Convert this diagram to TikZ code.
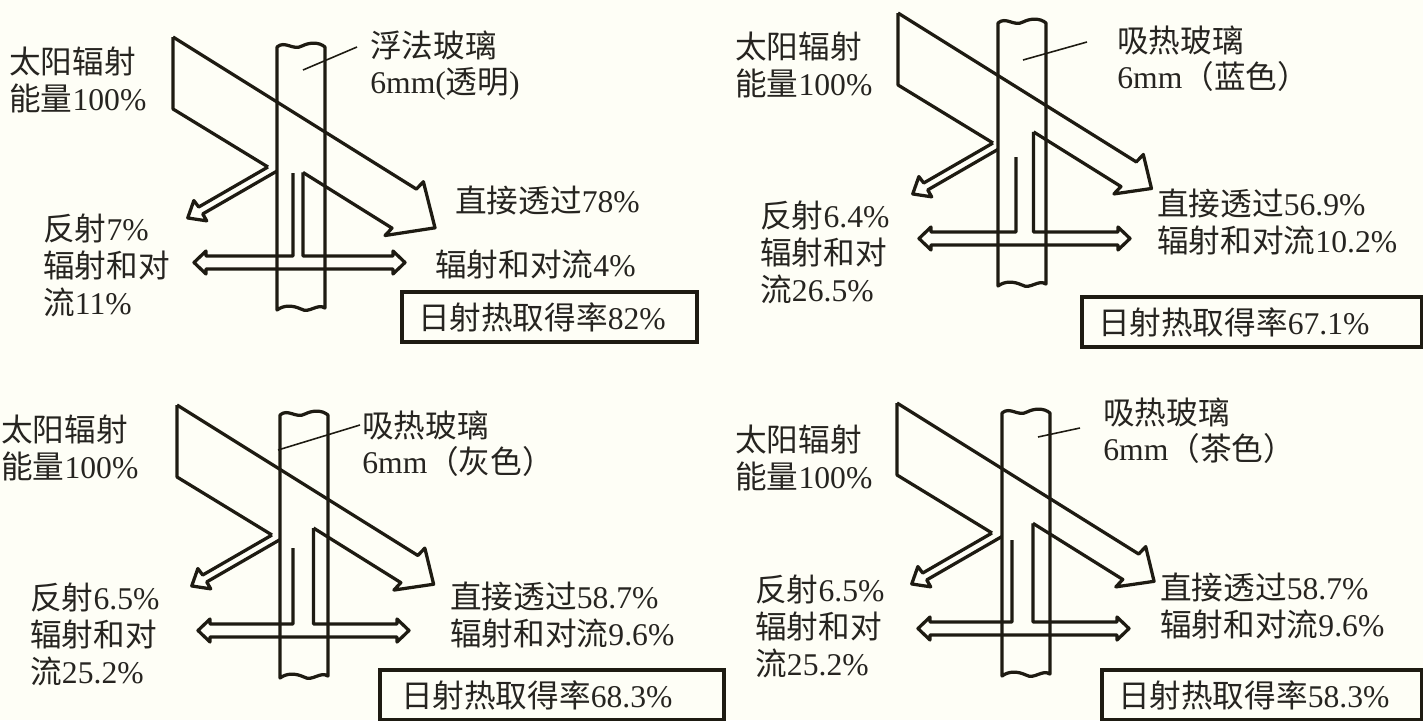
\documentclass[tikz,border=0pt]{standalone}
\usepackage{fontspec}
\setmainfont{Liberation Serif}
\newfontfamily\cjk{Noto Sans CJK SC}
\newcommand{\zh}[1]{{\cjk #1}}
\usetikzlibrary{calc}
\definecolor{ink}{HTML}{1E1B12}
\definecolor{paper}{HTML}{FEFEF6}
\definecolor{txt}{HTML}{262420}

\begin{document}
\begin{tikzpicture}[x=0.02cm, y=0.02cm,
    ray/.style={draw=ink, line width=1.85pt, line join=round},
    leader/.style={draw=ink, line width=0.9pt},
    lbl/.style={font=\fontsize{18}{21}\selectfont, text=txt, anchor=north west,
                align=left, inner sep=0pt},
    ratebox/.style={draw=ink, line width=2.3pt, font=\fontsize{18}{21}\selectfont,
                    text=txt, anchor=north west, inner xsep=0.32cm,
                    minimum height=1cm, align=left}
  ]
  \fill[paper] (0,0) rectangle (1423,-720);
  \useasboundingbox (0,0) rectangle (1423,-720);

  % --- four panes: origin, glass edge, left stem, transmitted beam ---
  \foreach \ox/\oy/\gl/\lx/\lt/\w/\xr/\len in {173/37/104/120/136/46/182/287,
      898/13/100/118/144/29/178/281, 177/405/103/116/143/32/181/284,
      897/403/105/115/137/30/179/285}{
    \begin{scope}[shift={(\ox,-\oy)}]
      \pgfmathsetmacro{\hd}{0.55*\w+11}
      \pgfmathsetmacro{\xo}{(99-\gl)/0.866}
      % glass, broken at both ends
      \draw[ray] (\gl,-10) .. controls ({\gl+8},-3) and ({\gl+16},-14) .. ({\gl+25},-9)
                 .. controls ({\gl+33},-5) and ({\gl+42},-5) .. ({\gl+48},-10)
                 -- ({\gl+48},-271) .. controls ({\gl+40},-266) and ({\gl+32},-277) .. ({\gl+24},-272)
                 .. controls ({\gl+15},-268) and ({\gl+7},-268) .. (\gl,-273) -- cycle;
      % incoming beam
      \draw[ray] (0,0) -- (0,-72) -- (95,-130);
      % transmitted beam
      \begin{scope}[rotate=-32]
        \draw[ray] (0,0) -- (\len,0) -- ({\len+2},10) -- ({\len+\hd},{-\w/2})
                   -- ({\len-2},{-\w-10}) -- (\len,-\w) -- (\xr,-\w) coordinate (rs);
      \end{scope}
      % reflected beam
      \begin{scope}[shift={(95,-130)}, rotate=210]
        \draw[ray] (\xo,8) -- (80,8) -- (80,16) -- (95,4) -- (81,-8) -- (80,0) -- (0,0);
      \end{scope}
      % radiation and convection, both sides
      \coordinate (yt) at (0,-219);
      \draw[ray] (\lx,-\lt) -- (\lx,-219) -- (33,-219) -- (33,-214) -- (21,-225.5)
                 -- (33,-237) -- (33,-232) -- (220,-232) -- (220,-237) -- (232,-225.5)
                 -- (220,-214) -- (220,-219) -- (rs |- yt) -- (rs);
    \end{scope}
  }

  % --- top left: float glass ---
  \node[lbl] (sun1) at (9,-47) {\zh{太阳辐射}\\\zh{能量}100\%};
  \node[lbl] (gls1) at (370,-30) {\zh{浮法玻璃}\\6mm(\zh{透明})};
  \node[lbl] (dir1) at (455,-186) {\zh{直接透过}78\%};
  \node[lbl] (cnv1) at (435,-250) {\zh{辐射和对流}4\%};
  \node[lbl] (ref1) at (43,-214) {\zh{反射}7\%\\\zh{辐射和对}\\\zh{流}11\%};
  \node[ratebox, text width=5.26cm] (box1) at (400,-290) {\zh{日射热取得率}82\%};
  \draw[leader] (303,-70) -- ($(gls1.north west)+(-13,-17)$);

  % --- top right: blue ---
  \node[lbl] (sun2) at (735,-32) {\zh{太阳辐射}\\\zh{能量}100\%};
  \node[lbl] (gls2) at (1117,-25) {\zh{吸热玻璃}\\6mm\zh{（蓝色）}};
  \node[lbl] (dir2) at (1157,-189) {\zh{直接透过}56.9\%\\\zh{辐射和对流}10.2\%};
  \node[lbl] (ref2) at (760,-201) {\zh{反射}6.4\%\\\zh{辐射和对}\\\zh{流}26.5\%};
  \node[ratebox, text width=6.16cm] (box2) at (1080,-295) {\zh{日射热取得率}67.1\%};
  \draw[leader] (1023,-60) -- ($(gls2.north west)+(-30,-17)$);

  % --- bottom left: grey ---
  \node[lbl] (sun3) at (1,-415) {\zh{太阳辐射}\\\zh{能量}100\%};
  \node[lbl] (gls3) at (362,-410) {\zh{吸热玻璃}\\6mm\zh{（灰色）}};
  \node[lbl] (dir3) at (450,-582) {\zh{直接透过}58.7\%\\\zh{辐射和对流}9.6\%};
  \node[lbl] (ref3) at (30,-583) {\zh{反射}6.5\%\\\zh{辐射和对}\\\zh{流}25.2\%};
  \node[ratebox, text width=6.04cm, inner xsep=0.42cm] (box3) at (378,-668) {\zh{日射热取得率}68.3\%};
  \draw[leader] (278,-450) -- ($(gls3.north west)+(-2,-15)$);

  % --- bottom right: bronze ---
  \node[lbl] (sun4) at (735,-425) {\zh{太阳辐射}\\\zh{能量}100\%};
  \node[lbl] (gls4) at (1103,-397) {\zh{吸热玻璃}\\6mm\zh{（茶色）}};
  \node[lbl] (dir4) at (1160,-573) {\zh{直接透过}58.7\%\\\zh{辐射和对流}9.6\%};
  \node[lbl] (ref4) at (755,-575) {\zh{反射}6.5\%\\\zh{辐射和对}\\\zh{流}25.2\%};
  \node[ratebox, text width=5.76cm] (box4) at (1100,-668) {\zh{日射热取得率}58.3\%};
  \draw[leader] (1038,-437) -- ($(gls4.north west)+(-23,-31)$);
\end{tikzpicture}
\end{document}
